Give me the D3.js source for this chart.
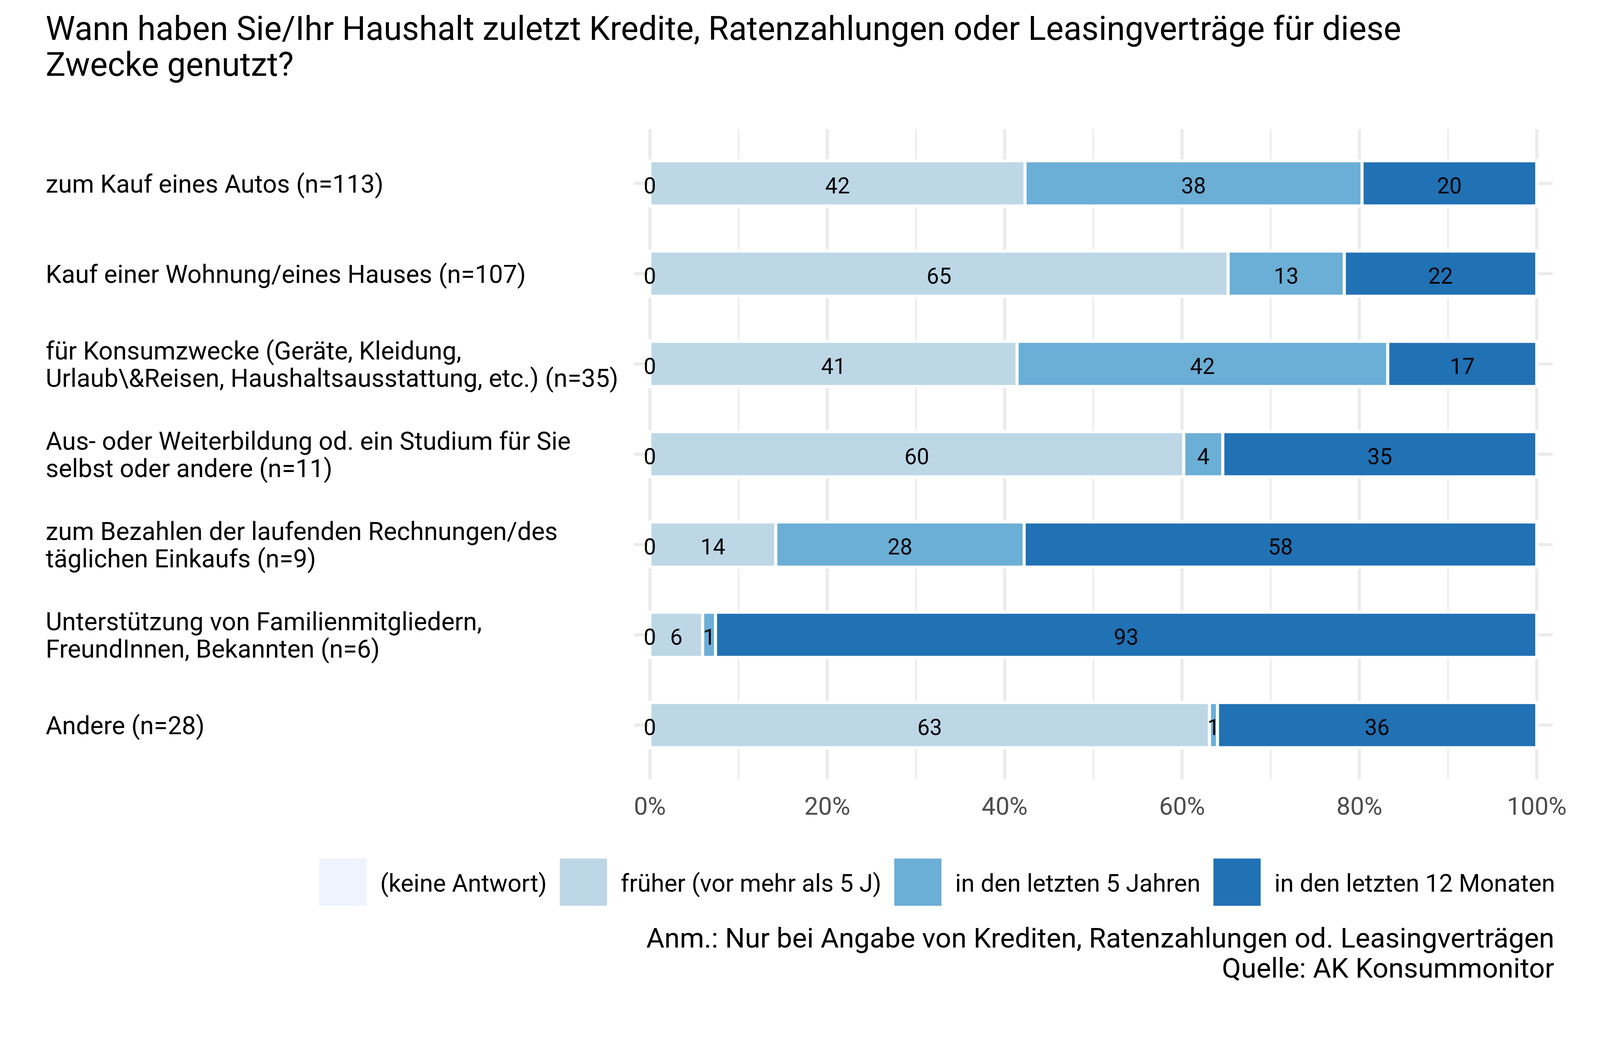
<!DOCTYPE html>
<html>
<head>
<meta charset="utf-8">
<script src="https://cdn.jsdelivr.net/npm/d3@7"></script>
<style>
  html, body { margin: 0; padding: 0; background: #ffffff; overflow: hidden; }
  svg { display: block; font-family: Roboto, "Noto Sans", sans-serif; }
</style>
</head>
<body>
<script>
// ---------- data ----------
const titleLines = [
  "Wann haben Sie/Ihr Haushalt zuletzt Kredite, Ratenzahlungen oder Leasingverträge für diese",
  "Zwecke genutzt?"
];
const categories = [
  ["zum Kauf eines Autos (n=113)"],
  ["Kauf einer Wohnung/eines Hauses (n=107)"],
  ["für Konsumzwecke (Geräte, Kleidung,", "Urlaub\\&Reisen, Haushaltsausstattung, etc.) (n=35)"],
  ["Aus- oder Weiterbildung od. ein Studium für Sie", "selbst oder andere (n=11)"],
  ["zum Bezahlen der laufenden Rechnungen/des", "täglichen Einkaufs (n=9)"],
  ["Unterstützung von Familienmitgliedern,", "FreundInnen, Bekannten (n=6)"],
  ["Andere (n=28)"]
];
const seriesNames = ["(keine Antwort)", "früher (vor mehr als 5 J)", "in den letzten 5 Jahren", "in den letzten 12 Monaten"];
const seriesColors = ["#EFF3FF", "#BDD7E7", "#6BAED6", "#2171B5"];
const keineAntwort = [0, 0, 0, 0, 0, 0, 0];
const frueher      = [42.3, 65.2, 41.4, 60.2, 14.2, 5.95, 63.1];
const letzte5      = [38.0, 13.1, 41.8, 4.4, 28.0, 1.45, 0.9];
const letzte12     = [19.7, 21.7, 16.8, 35.4, 57.8, 92.6, 36.0];
const xTicks = [0, 20, 40, 60, 80, 100];
const xTickLabels = ["0%", "20%", "40%", "60%", "80%", "100%"];
const captionLines = ["Anm.: Nur bei Angabe von Krediten, Ratenzahlungen od. Leasingverträgen", "Quelle: AK Konsummonitor"];

// ---------- layout ----------
const W = 4200, H = 2700;
const vw = window.innerWidth || W, vh = window.innerHeight || H;
const svg = d3.select("body").append("svg")
  .attr("width", vw).attr("height", vh)
  .attr("viewBox", `0 0 ${W} ${H}`)
  .attr("preserveAspectRatio", "xMinYMin meet");

const panelTop = 339, panelBottom = 2045;
const x = d3.scaleLinear().domain([0, 100]).range([1706, 4034]);
const panelLeft = 1664, panelRight = 4076;
const catIdx = categories.map((d, i) => i);
const y = d3.scaleBand().domain(catIdx).range([panelTop, panelBottom]).paddingInner(0.5).paddingOuter(0.35);

const allSeries = [keineAntwort, frueher, letzte5, letzte12];
const rows = catIdx.map(i => {
  let acc = 0;
  return allSeries.map((s, k) => {
    const v = s[i];
    const seg = { row: i, k, v, x0: acc, x1: acc + v };
    acc += v;
    return seg;
  });
});

// ---------- title ----------
svg.append("g").selectAll("text").data(titleLines).join("text")
  .attr("x", 120).attr("y", (d, i) => 105 + i * 94)
  .attr("font-size", 87).attr("fill", "#000").text(d => d);

// ---------- grid ----------
const grid = svg.append("g");
const minor = d3.range(10, 100, 20);
grid.selectAll("line.minor").data(minor).join("line")
  .attr("x1", d => x(d)).attr("x2", d => x(d))
  .attr("y1", panelTop).attr("y2", panelBottom)
  .attr("stroke", "#EBEBEB").attr("stroke-width", 4);
grid.selectAll("line.major").data(xTicks).join("line")
  .attr("x1", d => x(d)).attr("x2", d => x(d))
  .attr("y1", panelTop).attr("y2", panelBottom)
  .attr("stroke", "#EBEBEB").attr("stroke-width", 8);
grid.selectAll("line.h").data(catIdx).join("line")
  .attr("x1", panelLeft).attr("x2", panelRight)
  .attr("y1", d => y(d) + y.bandwidth() / 2).attr("y2", d => y(d) + y.bandwidth() / 2)
  .attr("stroke", "#EBEBEB").attr("stroke-width", 8);

// ---------- bars ----------
const barsG = svg.append("g");
rows.forEach(segs => {
  barsG.selectAll(null).data(segs.filter(s => s.v > 0)).join("rect")
    .attr("x", s => x(s.x0)).attr("width", s => x(s.x1) - x(s.x0))
    .attr("y", s => y(s.row)).attr("height", y.bandwidth())
    .attr("fill", s => seriesColors[s.k])
    .attr("stroke", "#ffffff").attr("stroke-width", 8);
});

// ---------- value labels ----------
const labG = svg.append("g");
rows.forEach(segs => {
  labG.selectAll(null).data(segs).join("text")
    .attr("x", s => x((s.x0 + s.x1) / 2))
    .attr("y", s => y(s.row) + y.bandwidth() / 2 + 26)
    .attr("text-anchor", "middle").attr("font-size", 58).attr("fill", "#000")
    .text(s => d3.format(".0f")(s.v));
});

// ---------- category labels ----------
const catG = svg.append("g");
categories.forEach((lines, i) => {
  const c = y(i) + y.bandwidth() / 2;
  const n = lines.length;
  lines.forEach((t, j) => {
    catG.append("text")
      .attr("x", 120)
      .attr("y", c + 24 + (j - (n - 1) / 2) * 72)
      .attr("font-size", 66).attr("fill", "#000").text(t);
  });
});

// ---------- x axis labels ----------
svg.append("g").selectAll("text").data(xTicks).join("text")
  .attr("x", d => x(d)).attr("y", 2138)
  .attr("text-anchor", "middle").attr("font-size", 65).attr("fill", "#4D4D4D")
  .text((d, i) => xTickLabels[i]);

// ---------- legend ----------
const legG = svg.append("g");
const keySize = 124, keyGap = 36, itemGap = 34, legRight = 4082, legTop = 2253;
const items = seriesNames.map((name, k) => {
  const g = legG.append("g");
  const r = g.append("rect").attr("width", keySize).attr("height", keySize).attr("y", legTop).attr("fill", seriesColors[k]);
  const t = g.append("text").attr("font-size", 64).attr("fill", "#000").attr("y", legTop + keySize / 2 + 25).text(name);
  return { r, t, w: t.node().getComputedTextLength() };
});
const total = d3.sum(items, d => keySize + keyGap + d.w) + itemGap * (items.length - 1);
let cx = legRight - total;
items.forEach(it => {
  it.r.attr("x", cx);
  it.t.attr("x", cx + keySize + keyGap);
  cx += keySize + keyGap + it.w + itemGap;
});

// ---------- caption ----------
svg.append("g").selectAll("text").data(captionLines).join("text")
  .attr("x", 4080).attr("y", (d, i) => 2487 + i * 79)
  .attr("text-anchor", "end").attr("font-size", 73).attr("fill", "#000").text(d => d);
</script>
</body>
</html>
